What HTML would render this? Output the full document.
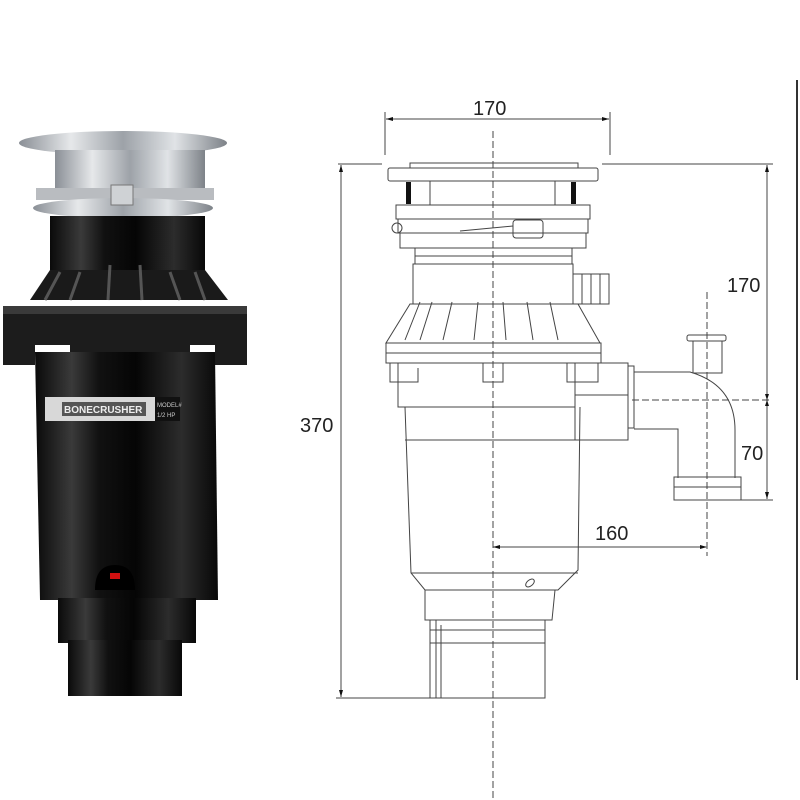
<!DOCTYPE html>
<html><head><meta charset="utf-8"><style>
html,body{margin:0;padding:0;background:#fff}
svg{display:block}
text{font-family:"Liberation Sans",sans-serif}
</style></head><body>
<svg width="800" height="800" viewBox="0 0 800 800" xmlns="http://www.w3.org/2000/svg">
<defs>
<linearGradient id="chrome" x1="0" x2="1" y1="0" y2="0">
<stop offset="0" stop-color="#8a8f96"/><stop offset="0.25" stop-color="#e6e8ea"/><stop offset="0.5" stop-color="#9da2a8"/><stop offset="0.75" stop-color="#e0e3e6"/><stop offset="1" stop-color="#7d8288"/></linearGradient>
<linearGradient id="blk" x1="0" x2="1" y1="0" y2="0">
<stop offset="0" stop-color="#0a0a0a"/><stop offset="0.2" stop-color="#3a3a3a"/><stop offset="0.35" stop-color="#111"/><stop offset="0.55" stop-color="#050505"/><stop offset="0.8" stop-color="#2c2c2c"/><stop offset="1" stop-color="#080808"/></linearGradient>
</defs>
<!-- PHOTO -->
<ellipse cx="123" cy="143" rx="104" ry="12" fill="url(#chrome)"/>
<rect x="55" y="150" width="150" height="45" fill="url(#chrome)"/>
<rect x="36" y="188" width="178" height="12" fill="#b9bcc0"/>
<ellipse cx="123" cy="208" rx="90" ry="10" fill="url(#chrome)"/>
<rect x="111" y="185" width="22" height="20" fill="#cfd2d5" stroke="#777"/>
<rect x="50" y="216" width="155" height="70" fill="url(#blk)"/>
<path d="M30 300 L50 270 L205 270 L228 300 Z" fill="#1a1a1a"/>
<g stroke="#555" stroke-width="3">
<line x1="45" y1="300" x2="60" y2="272"/><line x1="70" y1="300" x2="80" y2="272"/><line x1="108" y1="300" x2="110" y2="265"/><line x1="142" y1="300" x2="140" y2="265"/><line x1="180" y1="300" x2="170" y2="272"/><line x1="205" y1="300" x2="195" y2="272"/></g>
<path d="M3 308 L247 308 L247 365 L215 365 L215 345 L190 345 L190 360 L70 360 L70 345 L35 345 L35 365 L3 365 Z" fill="#1c1c1c"/>
<rect x="3" y="306" width="244" height="8" fill="#3a3a3a"/>
<path d="M35 352 L215 352 L218 600 L40 600 Z" fill="url(#blk)"/>
<rect x="45" y="397" width="112" height="24" fill="#d8d8d8"/>
<rect x="62" y="402" width="84" height="14" fill="#555"/>
<text x="64" y="413" font-size="10" fill="#eee" font-weight="bold">BONECRUSHER</text>
<rect x="155" y="397" width="25" height="24" fill="#111"/>
<text x="157" y="407" font-size="6" fill="#ccc">MODEL#</text>
<text x="157" y="417" font-size="6" fill="#ccc">1/2 HP</text>
<path d="M95 590 Q95 565 115 565 Q135 565 135 590 Z" fill="#000"/>
<rect x="110" y="573" width="10" height="6" fill="#d01010"/>
<rect x="58" y="598" width="138" height="45" fill="url(#blk)"/>
<rect x="68" y="640" width="114" height="56" fill="url(#blk)"/>
<!-- DRAWING -->
<g fill="none" stroke="#444" stroke-width="1">
<!-- dims -->
<line x1="385" y1="112" x2="385" y2="155"/><line x1="610" y1="112" x2="610" y2="155"/>
<line x1="386" y1="119" x2="609" y2="119"/>
<line x1="338" y1="164" x2="382" y2="164"/><line x1="602" y1="164" x2="773" y2="164"/>
<line x1="341" y1="165" x2="341" y2="697"/><line x1="336" y1="698" x2="430" y2="698"/>
<line x1="767" y1="165" x2="767" y2="499"/><line x1="741" y1="500" x2="773" y2="500"/>
<line x1="493" y1="547" x2="706" y2="547"/>
<line x1="493" y1="131" x2="493" y2="800" stroke-dasharray="7,3"/>
<line x1="707" y1="292" x2="707" y2="556" stroke-dasharray="7,3"/>
<line x1="632" y1="400" x2="772" y2="400" stroke-dasharray="7,3"/>
<!-- top -->
<rect x="410" y="163" width="168" height="5"/>
<rect x="388" y="168" width="210" height="13" rx="2"/>
<line x1="430" y1="181" x2="430" y2="205"/><line x1="555" y1="181" x2="555" y2="205"/>
<rect x="396" y="205" width="194" height="14"/>
<rect x="398" y="219" width="190" height="14"/>
<rect x="400" y="233" width="186" height="15"/>
<rect x="513" y="220" width="30" height="18" rx="3"/>
<line x1="460" y1="231" x2="513" y2="226"/>
<circle cx="397" cy="228" r="5"/>
<rect x="415" y="248" width="157" height="16"/>
<line x1="415" y1="256" x2="572" y2="256"/>
<rect x="413" y="264" width="160" height="40"/>
<rect x="573" y="274" width="36" height="30"/>
<line x1="582" y1="274" x2="582" y2="304"/><line x1="591" y1="274" x2="591" y2="304"/><line x1="600" y1="274" x2="600" y2="304"/>
<path d="M410 304 L578 304 L600 343 L386 343 Z"/>
<path d="M405 340 L420 302 M420 340 L432 302 M443 340 L452 302 M474 340 L478 302 M506 340 L503 302 M533 340 L527 302 M558 340 L550 302"/>
<rect x="386" y="343" width="215" height="20"/>
<line x1="386" y1="353" x2="601" y2="353"/>
<path d="M390 363 L390 382 L418 382 L418 368 M483 363 L483 382 L503 382 L503 363 M567 363 L567 382 L598 382 L598 363"/>
<rect x="398" y="363" width="177" height="44"/>
<rect x="575" y="363" width="53" height="77"/>
<line x1="575" y1="395" x2="628" y2="395"/>
<rect x="628" y="366" width="6" height="62"/>
<path d="M634 372 L690 372 Q735 385 735 430 L735 478 M634 429 L678 429 L678 478"/>
<rect x="693" y="341" width="29" height="32"/>
<rect x="687" y="335" width="39" height="6" rx="2"/>
<rect x="674" y="477" width="67" height="23"/>
<line x1="674" y1="487" x2="741" y2="487"/>
<!-- lower body -->
<path d="M405 407 L411 573 L425 590 L558 590 L578 570 L580 407"/>
<line x1="405" y1="440" x2="580" y2="440"/>
<line x1="411" y1="573" x2="578" y2="573"/>
<path d="M425 590 L425 620 L552 620 L555 590"/>
<rect x="430" y="620" width="115" height="78"/>
<line x1="430" y1="630" x2="545" y2="630"/><line x1="430" y1="643" x2="545" y2="643"/>
<line x1="436" y1="620" x2="436" y2="698"/><line x1="441" y1="625" x2="441" y2="698"/>
<ellipse cx="530" cy="583" rx="5" ry="3" transform="rotate(-40 530 583)"/>
</g>
<g fill="#111">
<rect x="406" y="182" width="5" height="22"/><rect x="571" y="182" width="5" height="22"/>
<path d="M386 119 l7 -2 v4z M609 119 l-7 -2 v4z M341 165 l-2 7 h4z M341 697 l-2 -7 h4z M767 165 l-2 7 h4z M767 499 l-2 -7 h4z M767 400 l-2 -6 h4z M767 400 l-2 6 h4z M493 547 l7 -2 v4z M707 547 l-7 -2 v4z"/>
</g>
<line x1="797" y1="80" x2="797" y2="680" stroke="#333" stroke-width="2"/>
<g font-size="20" fill="#222">
<text x="473" y="115">170</text>
<text x="300" y="432">370</text>
<text x="727" y="292">170</text>
<text x="741" y="460">70</text>
<text x="595" y="540">160</text>
</g>
</svg>
</body></html>
